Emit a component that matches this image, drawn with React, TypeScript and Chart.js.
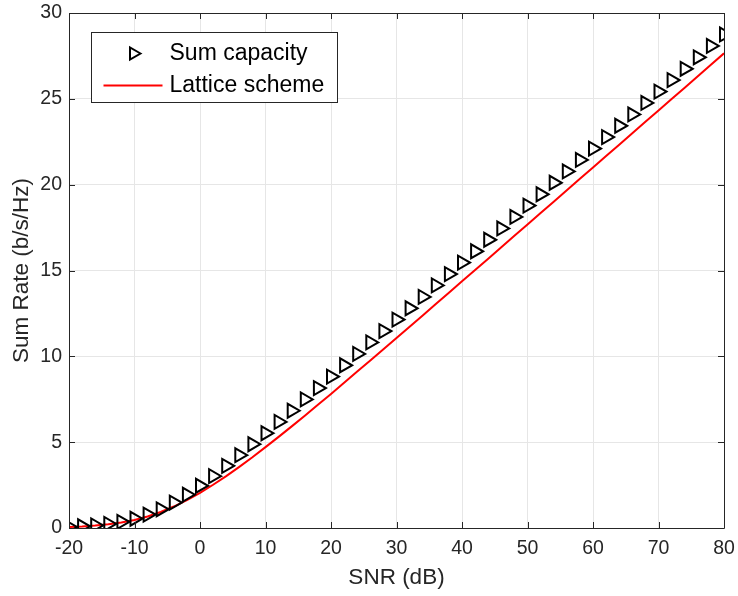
import React, { useEffect, useRef } from "react";
import { Chart, registerables } from "chart.js";

Chart.register(...registerables);

const snrDb = [
  -20, -18, -16, -14, -12, -10, -8, -6, -4, -2, 0, 2, 4, 6, 8, 10, 12, 14, 16, 18, 20,
  22, 24, 26, 28, 30, 32, 34, 36, 38, 40, 42, 44, 46, 48, 50, 52, 54, 56, 58, 60,
  62, 64, 66, 68, 70, 72, 74, 76, 78, 80,
];

const sumCapacity = [
  0.06, 0.10, 0.15, 0.24, 0.36, 0.54, 0.78, 1.09, 1.48, 1.94, 2.46, 3.02, 3.62, 4.24,
  4.88, 5.52, 6.18, 6.83, 7.49, 8.15, 8.82, 9.48, 10.14, 10.81, 11.47, 12.14, 12.80,
  13.46, 14.13, 14.79, 15.46, 16.12, 16.79, 17.45, 18.12, 18.78, 19.44, 20.11, 20.77,
  21.44, 22.10, 22.77, 23.43, 24.09, 24.76, 25.42, 26.09, 26.75, 27.42, 28.08, 28.75,
];

const latticeScheme = [
  0.06, 0.09, 0.14, 0.22, 0.32, 0.47, 0.67, 0.93, 1.25, 1.62, 2.05, 2.52, 3.02, 3.56,
  4.12, 4.71, 5.31, 5.92, 6.54, 7.18, 7.81, 8.46, 9.11, 9.76, 10.41, 11.07, 11.73,
  12.38, 13.05, 13.71, 14.37, 15.03, 15.69, 16.36, 17.02, 17.68, 18.35, 19.01, 19.67,
  20.34, 21.00, 21.67, 22.33, 23.00, 23.66, 24.32, 24.99, 25.65, 26.32, 26.98, 27.65,
];

const xTicks = [-20, -10, 0, 10, 20, 30, 40, 50, 60, 70, 80];
const yTicks = [0, 5, 10, 15, 20, 25, 30];

const seriesNames = ["Sum capacity", "Lattice scheme"];
const xTitle = "SNR (dB)";
const yTitle = "Sum Rate (b/s/Hz)";

const FONT = '"Liberation Sans", Arial, Helvetica, sans-serif';
const AXIS = "#262626";
const MARKER_R = 8;

function drawTri(ctx: CanvasRenderingContext2D, x: number, y: number, r: number) {
  ctx.beginPath();
  ctx.moveTo(x + r, y);
  ctx.lineTo(x - r / 2, y - r * 0.866);
  ctx.lineTo(x - r / 2, y + r * 0.866);
  ctx.closePath();
  ctx.stroke();
}

const framePlugin = {
  id: "frame",
  afterDraw(chart: any) {
    const { ctx, chartArea } = chart;
    const { left, right, top, bottom } = chartArea;
    const xs = chart.scales.x;
    const ys = chart.scales.y;
    ctx.save();
    ctx.strokeStyle = AXIS;
    ctx.lineWidth = 1;
    ctx.beginPath();
    ctx.rect(Math.round(left) + 0.5, Math.round(top) + 0.5, Math.round(right - left), Math.round(bottom - top));
    ctx.stroke();
    const tl = 6;
    ctx.beginPath();
    xTicks.forEach((v) => {
      const px = Math.round(xs.getPixelForValue(v)) + 0.5;
      ctx.moveTo(px, bottom);
      ctx.lineTo(px, bottom - tl);
      ctx.moveTo(px, top);
      ctx.lineTo(px, top + tl);
    });
    yTicks.forEach((v) => {
      const py = Math.round(ys.getPixelForValue(v)) + 0.5;
      ctx.moveTo(left, py);
      ctx.lineTo(left + tl, py);
      ctx.moveTo(right, py);
      ctx.lineTo(right - tl, py);
    });
    ctx.stroke();

    // legend
    const bx = Math.round(left) + 22.5;
    const by = Math.round(top) + 19.5;
    const bw = 246;
    const bh = 70;
    ctx.fillStyle = "#ffffff";
    ctx.fillRect(bx, by, bw, bh);
    ctx.strokeStyle = AXIS;
    ctx.lineWidth = 1;
    ctx.strokeRect(bx, by, bw, bh);
    ctx.strokeStyle = "#000000";
    ctx.lineWidth = 2;
    drawTri(ctx, bx + 42, by + 21, 7);
    ctx.strokeStyle = "#ff0000";
    ctx.lineWidth = 2;
    ctx.beginPath();
    ctx.moveTo(bx + 12, by + 53);
    ctx.lineTo(bx + 71, by + 53);
    ctx.stroke();
    ctx.fillStyle = "#000000";
    ctx.font = `23px ${FONT}`;
    ctx.textBaseline = "middle";
    ctx.textAlign = "left";
    ctx.fillText(seriesNames[0], bx + 78, by + 21);
    ctx.fillText(seriesNames[1], bx + 78, by + 53);
    ctx.restore();
  },
};

function zeroPad(s: any) {
  s.paddingLeft = 0;
  s.paddingRight = 0;
  s.paddingTop = 0;
  s.paddingBottom = 0;
}

export default function App() {
  const ref = useRef<HTMLCanvasElement | null>(null);
  useEffect(() => {
    if (!ref.current) return;
    const chart = new Chart(ref.current, {
      type: "line",
      data: {
        datasets: [
          {
            label: seriesNames[0],
            data: snrDb.map((x, i) => ({ x, y: sumCapacity[i] })),
            showLine: false,
            pointStyle: "triangle",
            rotation: 90,
            pointRadius: MARKER_R,
            pointHoverRadius: MARKER_R,
            pointBorderWidth: 2,
            borderColor: "#000000",
            pointBorderColor: "#000000",
            pointBackgroundColor: "rgba(0,0,0,0)",
            backgroundColor: "rgba(0,0,0,0)",
          },
          {
            label: seriesNames[1],
            data: snrDb.map((x, i) => ({ x, y: latticeScheme[i] })),
            borderColor: "#ff0000",
            borderWidth: 2,
            pointRadius: 0,
            fill: false,
            tension: 0,
          },
        ],
      },
      options: {
        animation: false,
        responsive: false,
        events: [],
        layout: { padding: { top: 13, right: 14, left: 0, bottom: 0 } },
        plugins: { legend: { display: false }, tooltip: { enabled: false } },
        scales: {
          x: {
            type: "linear",
            min: -20,
            max: 80,
            afterBuildTicks: (s: any) => {
              s.ticks = xTicks.map((v) => ({ value: v }));
            },
            afterFit: (s: any) => {
              s.height = 68;
              zeroPad(s);
            },
            ticks: { color: AXIS, font: { family: FONT, size: 19.5 }, padding: 9, maxRotation: 0 },
            grid: { color: "#e6e6e6", drawTicks: false, lineWidth: 1 },
            border: { display: false },
            title: {
              display: true,
              text: xTitle,
              color: AXIS,
              font: { family: FONT, size: 22.5 },
              padding: { top: 0, bottom: 4.5 },
            },
          },
          y: {
            type: "linear",
            min: 0,
            max: 30,
            afterBuildTicks: (s: any) => {
              s.ticks = yTicks.map((v) => ({ value: v }));
            },
            afterFit: (s: any) => {
              s.width = 69;
              zeroPad(s);
            },
            ticks: { color: AXIS, font: { family: FONT, size: 19.5 }, padding: 7 },
            grid: { color: "#e6e6e6", drawTicks: false, lineWidth: 1 },
            border: { display: false },
            title: {
              display: true,
              text: yTitle,
              color: AXIS,
              font: { family: FONT, size: 22.5 },
              padding: { top: 8, bottom: 0 },
            },
          },
        },
      },
      plugins: [framePlugin],
    } as any);
    return () => chart.destroy();
  }, []);
  return (
    <div style={{ position: "absolute", left: 0, top: 0, width: 738, height: 596, background: "#fff" }}>
      <canvas ref={ref} width={738} height={596} style={{ display: "block" }} />
    </div>
  );
}
